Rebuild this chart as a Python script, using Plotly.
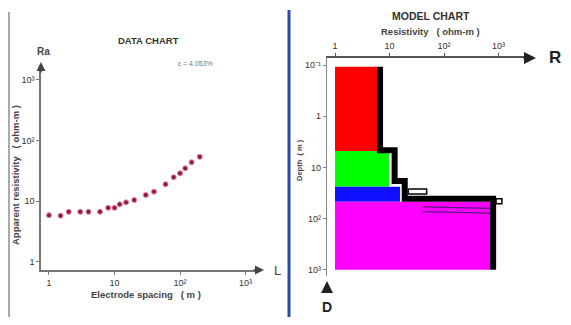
import plotly.graph_objects as go

# page body has an 8px margin: figure is sized to fit the 571x325 window exactly
PAGE_W, PAGE_H = 571, 325
OFF = 8
W, H = PAGE_W - 2 * OFF, PAGE_H - 2 * OFF

# ---- Data chart (apparent resistivity sounding curve) ----
spacing = [1, 1.5, 2, 3, 4, 6, 8, 10, 12, 15, 20, 30, 40, 60, 80, 100, 120, 150, 200]
app_res = [5.9, 5.8, 6.7, 6.7, 6.7, 6.7, 7.8, 7.8, 8.9, 9.6, 10.5, 12.7, 14.4, 19.1, 24.9, 28.9, 34.9, 43.9, 54]

# ---- Model chart (layered earth) ----
layer_res = [6.1, 9.8, 15.6, 700]
layer_top = [0.108, 4.8, 23.7, 47]
layer_bot = [4.8, 23.7, 47, 1000]
layer_col = ["#ff0000", "#00ff00", "#1010ff", "#ff00ff"]

model_R = [6.7, 6.7, 12.4, 12.4, 19, 19, 795, 795]
model_D = [0.108, 4.6, 4.6, 18.3, 18.3, 41, 41, 1000]

equiv1_R = [41, 700]
equiv1_D = [59, 63]
equiv2_R = [41, 700]
equiv2_D = [73, 78]

box1_R = [22, 48, 48, 22, 22]
box1_D = [26.4, 26.4, 33, 33, 26.4]
box2_R = [900, 1150, 1150, 900, 900]
box2_D = [41, 41, 51, 51, 41]

log_ticks = [1, 10, 100, 1000]
log_text = ["1", "10", "10²", "10³"]
depth_ticks = [0.1, 1, 10, 100, 1000]
depth_text = ["10⁻¹", "1", "10", "10²", "10³"]


def px(x):
    return (x - OFF) / W


def py(y):
    return 1 - (y - OFF) / H


fig = go.Figure()

fig.add_trace(go.Scatter(
    x=spacing, y=app_res, mode="markers", xaxis="x", yaxis="y",
    marker=dict(size=5, color="#8c1c40", line=dict(color="#e880a0", width=1)),
    showlegend=False))

for r, t, b, c in zip(layer_res, layer_top, layer_bot, layer_col):
    fig.add_trace(go.Scatter(
        x=[1, r, r, 1, 1], y=[t, t, b, b, t], mode="lines", fill="toself",
        fillcolor=c, line=dict(width=0, color=c), xaxis="x2", yaxis="y2",
        showlegend=False, hoverinfo="skip"))

for xr, yd in [(equiv1_R, equiv1_D), (equiv2_R, equiv2_D)]:
    fig.add_trace(go.Scatter(x=xr, y=yd, mode="lines", xaxis="x2", yaxis="y2",
                             line=dict(color="#5a1878", width=1.2), showlegend=False))

fig.add_trace(go.Scatter(x=model_R, y=model_D, mode="lines", xaxis="x2", yaxis="y2",
                         line=dict(color="black", width=6), showlegend=False))

for xr, yd in [(box1_R, box1_D), (box2_R, box2_D)]:
    fig.add_trace(go.Scatter(x=xr, y=yd, mode="lines", fill="toself", fillcolor="white",
                             xaxis="x2", yaxis="y2",
                             line=dict(color="black", width=1.5), showlegend=False))

tickfont = dict(family="Liberation Sans, Arial", size=9, color="#333")
axcommon = dict(type="log", showgrid=False, zeroline=False, showline=True,
                ticks="outside", ticklen=3, tickfont=tickfont)

fig.update_layout(
    width=W, height=H, margin=dict(l=0, r=0, t=0, b=0),
    paper_bgcolor="white", plot_bgcolor="rgba(0,0,0,0)",
    xaxis=dict(**axcommon, domain=[px(41), px(258)], range=[-0.122, 3.19],
               anchor="y", tickvals=log_ticks, ticktext=log_text,
               linecolor="#777", linewidth=1.5, tickcolor="#777"),
    yaxis=dict(**axcommon, domain=[py(270), py(65)], range=[-0.132, 3.245],
               anchor="x", tickvals=log_ticks, ticktext=log_text,
               linecolor="#777", linewidth=1.5, tickcolor="#777"),
    xaxis2=dict(**axcommon, domain=[px(327), px(528)], range=[-0.147, 3.54],
                anchor="y2", side="top", tickvals=log_ticks, ticktext=log_text,
                linecolor="#555", linewidth=2, tickcolor="#555"),
    yaxis2=dict(**axcommon, domain=[py(276), py(58)], range=[3.12, -1.137],
                anchor="x2", tickvals=depth_ticks, ticktext=depth_text,
                linecolor="#888", linewidth=1.2, tickcolor="#888"),
)

ann = []
font_b = "Liberation Sans, Arial"
ann.append(dict(x=px(148), y=py(41), text="<b>DATA CHART</b>", showarrow=False,
                font=dict(family=font_b, size=9.5, color="#333")))
ann.append(dict(x=px(195), y=py(63), text="ε = 4.053%", showarrow=False,
                font=dict(family=font_b, size=7, color="#777")))
ann.append(dict(x=px(146), y=py(294), text="<b>Electrode spacing   ( m )</b>", showarrow=False,
                font=dict(family=font_b, size=9.5, color="#444")))
ann.append(dict(x=px(15), y=py(175), text="<b>Apparent resistivity   ( ohm-m )</b>", showarrow=False,
                textangle=-90, font=dict(family=font_b, size=9.5, color="#444")))
ann.append(dict(x=px(43), y=py(52), text="<b>Ra</b>", showarrow=False,
                font=dict(family=font_b, size=10, color="#444")))
ann.append(dict(x=px(277), y=py(270), text="L", showarrow=False,
                font=dict(family=font_b, size=13, color="#444")))
ann.append(dict(x=px(431), y=py(16), text="<b>MODEL CHART</b>", showarrow=False,
                font=dict(family=font_b, size=10.5, color="#333")))
ann.append(dict(x=px(430), y=py(31), text="<b>Resistivity   ( ohm-m )</b>", showarrow=False,
                font=dict(family=font_b, size=9.5, color="#444")))
ann.append(dict(x=px(300), y=py(160), text="<b>Depth  ( m )</b>", showarrow=False,
                textangle=-90, font=dict(family=font_b, size=7.5, color="#444")))
ann.append(dict(x=px(555), y=py(58), text="<b>R</b>", showarrow=False,
                font=dict(family=font_b, size=17, color="#222")))
ann.append(dict(x=px(327), y=py(307), text="<b>D</b>", showarrow=False,
                font=dict(family=font_b, size=14, color="#222")))
# axis arrows
ann.append(dict(x=px(41), y=py(62), ax=0, ay=12,
                text="", showarrow=True, arrowhead=2, arrowsize=1.2, arrowwidth=1.5, arrowcolor="#444"))
ann.append(dict(x=px(264), y=py(270), ax=-12, ay=0,
                text="", showarrow=True, arrowhead=2, arrowsize=1.2, arrowwidth=1.5, arrowcolor="#444"))
ann.append(dict(x=px(536), y=py(58), ax=-14, ay=0,
                text="", showarrow=True, arrowhead=2, arrowsize=1.2, arrowwidth=2, arrowcolor="#222"))
ann.append(dict(x=px(327), y=py(281), ax=0, ay=12,
                text="", showarrow=True, arrowhead=2, arrowsize=1.2, arrowwidth=2, arrowcolor="#222"))
for a in ann:
    a["xref"] = "paper"
    a["yref"] = "paper"
    if not a["showarrow"]:
        a["xanchor"] = "center"
        a["yanchor"] = "middle"
fig.update_layout(annotations=ann)

fig.update_layout(shapes=[
    dict(type="line", xref="paper", yref="paper", x0=px(9), x1=px(9), y0=py(12), y1=py(325),
         line=dict(color="#aaa", width=2)),
    dict(type="line", xref="paper", yref="paper", x0=px(289), x1=px(289), y0=py(10), y1=py(325),
         line=dict(color="#2b4aa8", width=3)),
])

fig.write_html("out.html")
